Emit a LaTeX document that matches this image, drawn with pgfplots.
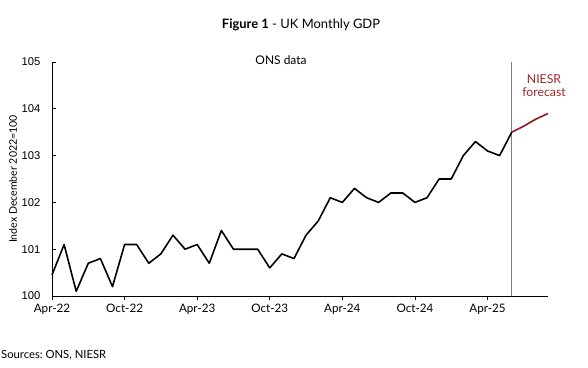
\documentclass[border=0pt]{standalone}
\usepackage{pgfplots}
\pgfplotsset{compat=1.18}
\usepackage{fontspec}
\setmainfont{Lato}
\newfontfamily\arialf{Liberation Sans}
\definecolor{niesr}{HTML}{9E2A2E}
\definecolor{niesrline}{HTML}{8C1A1E}
\frenchspacing
\begin{document}
\begin{tikzpicture}[x=1bp,y=1bp]
\useasboundingbox (0,0) rectangle (588,367);
\begin{axis}[
  at={(52bp,71bp)}, anchor=south west,
  scale only axis, width=496bp, height=234bp,
  xmin=0, xmax=41, ymin=100, ymax=105,
  axis x line*=bottom, axis y line*=left,
  axis line style={black, line width=0.8pt, -},
  xtick={0,6,12,18,24,30,36},
  xticklabels={Apr-22,Oct-22,Apr-23,Oct-23,Apr-24,Oct-24,Apr-25},
  ytick={100,101,102,103,104,105},
  major tick length=4bp,
  x tick style={black, line width=0.8pt}, xtick align=outside,
  y tick style={black, line width=0.8pt}, ytick align=inside,
  /pgf/number format/assume math mode=true,
  xticklabel style={font=\fontsize{11.7}{13}\selectfont, yshift=-1bp},
  yticklabel style={font=\arialf\fontsize{11.3}{13}\selectfont, xshift=-8bp},
  ylabel={Index December 2022=100},
  ylabel style={font=\fontsize{10.6}{12}\selectfont, yshift=-2bp},
  clip=false,
]
\addplot[gray, line width=0.7pt] coordinates {(38,100) (38,105)};
\addplot[black, line width=1.6pt, line join=round] coordinates {
(0,100.45) (1,101.1) (2,100.1) (3,100.7) (4,100.8) (5,100.2) (6,101.1) (7,101.1)
(8,100.7) (9,100.9) (10,101.3) (11,101.0) (12,101.1) (13,100.7) (14,101.4) (15,101.0)
(16,101.0) (17,101.0) (18,100.6) (19,100.9) (20,100.8) (21,101.3) (22,101.6) (23,102.1)
(24,102.0) (25,102.3) (26,102.1) (27,102.0) (28,102.2) (29,102.2) (30,102.0) (31,102.1)
(32,102.5) (33,102.5) (34,103.0) (35,103.3) (36,103.1) (37,103.0) (38,103.5)};
\addplot[niesrline, line width=1.6pt, line join=round] coordinates {
(38,103.5) (39,103.63) (40,103.78) (41,103.9)};
\end{axis}
\node[font=\fontsize{13}{15}\selectfont] at (301,342) {\textbf{Figure 1} - UK Monthly GDP};
\node[font=\fontsize{12}{14}\selectfont] at (281,307) {ONS data};
\node[font=\fontsize{12.3}{14}\selectfont, text=niesr, align=center, inner sep=0pt] at (544,281) {NIESR\\[-1pt]forecast};
\node[font=\fontsize{11.3}{13}\selectfont, anchor=west, inner sep=0pt] at (1,12) {Sources: ONS, NIESR};
\end{tikzpicture}
\end{document}
